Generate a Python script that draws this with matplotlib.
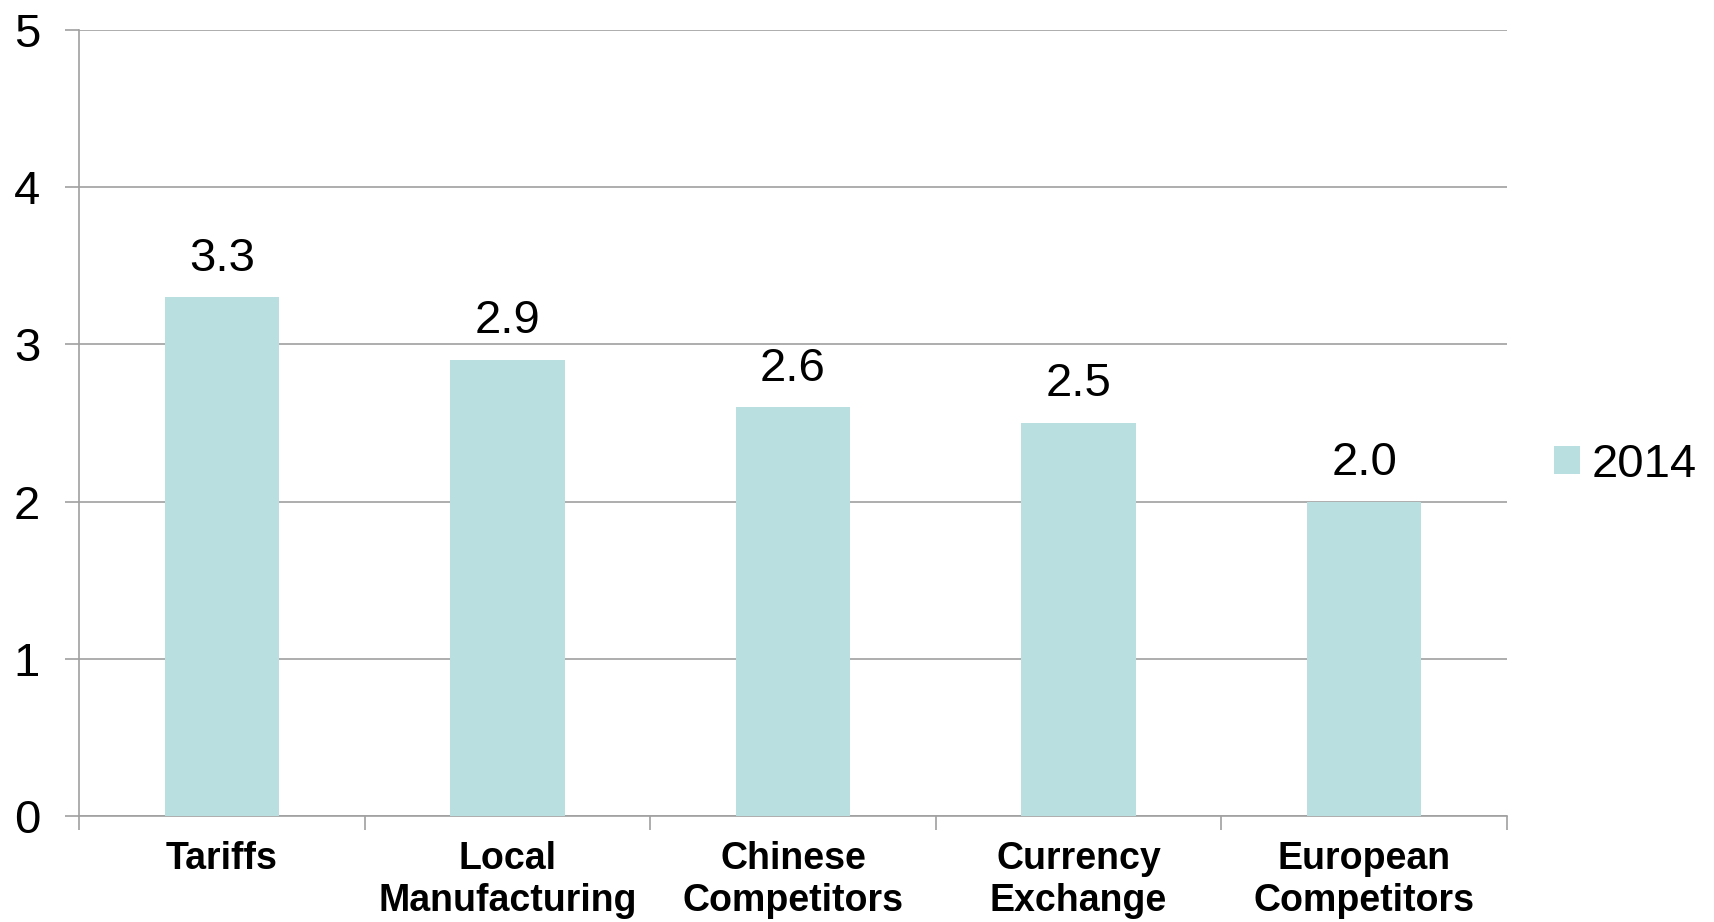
import matplotlib.pyplot as plt
import numpy as np

categories = ['Tariffs', 'Local\nManufacturing', 'Chinese\nCompetitors',
              'Currency\nExchange', 'European\nCompetitors']
values_2014 = [3.3, 2.9, 2.6, 2.5, 2.0]
series_name = '2014'
yticks = [0, 1, 2, 3, 4, 5]

bar_color = '#B9DFE1'
grid_color = '#A0A0A0'

plt.rcParams['font.family'] = ['Liberation Sans', 'DejaVu Sans']

fig = plt.figure(figsize=(17.15, 9.22), dpi=100)
ax = fig.add_axes([79 / 1715, 1 - 816 / 922, (1507 - 79) / 1715, (816 - 30) / 922])

x = np.arange(len(categories))
bars = ax.bar(x, values_2014, width=0.4, color=bar_color, label=series_name, zorder=3)

for b, v in zip(bars, values_2014):
    ax.annotate(f'{v:.1f}', (b.get_x() + b.get_width() / 2, v),
                xytext=(0, 12), textcoords='offset points',
                ha='center', va='bottom', fontsize=34)

ax.set_xlim(-0.5, len(categories) - 0.5)
ax.set_ylim(0, 5)
ax.set_yticks(yticks)
ax.set_yticklabels([str(t) for t in yticks], fontsize=34)
ax.yaxis.grid(True, color=grid_color, linewidth=1.2, zorder=0)

# category ticks sit between bars
ax.set_xticks(np.arange(len(categories) + 1) - 0.5)
ax.set_xticklabels([''] * (len(categories) + 1))
ax.set_xticks(x, minor=True)
ax.set_xticklabels(categories, minor=True, fontsize=27, fontweight='bold', linespacing=1.22)
ax.tick_params(axis='x', which='minor', length=0, pad=18)
ax.tick_params(axis='x', which='major', length=10, color=grid_color, width=1.2)
ax.tick_params(axis='y', length=10, color=grid_color, width=1.2, pad=18)

for s in ['top', 'right']:
    ax.spines[s].set_visible(False)
for s in ['left', 'bottom']:
    ax.spines[s].set_color(grid_color)
    ax.spines[s].set_linewidth(1.2)

ax.legend(loc='center left', bbox_to_anchor=(1.033, 0.447), frameon=False,
          borderaxespad=0, borderpad=0,
          fontsize=34, handlelength=0.55, handleheight=0.55, handletextpad=0.25)

fig.savefig('out.png', dpi=100)
